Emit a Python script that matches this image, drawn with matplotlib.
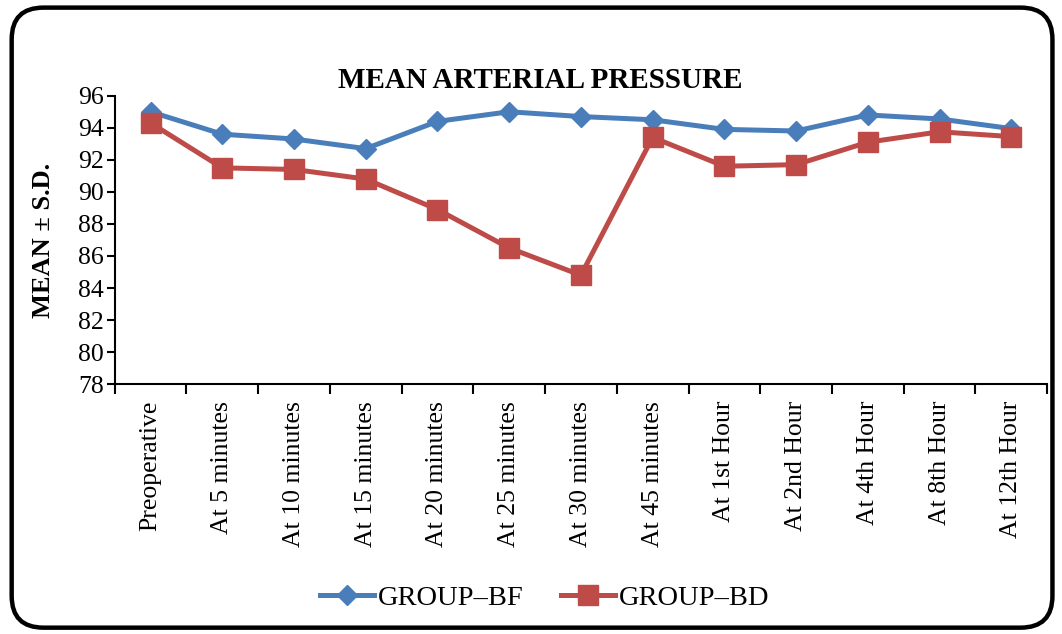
import numpy as np
import matplotlib
matplotlib.use("Agg")
import matplotlib.pyplot as plt
from matplotlib.patches import FancyBboxPatch

plt.rcParams['font.family'] = ['Liberation Serif', 'DejaVu Serif']

# time points
categories = ["Preoperative", "At 5 minutes", "At 10 minutes", "At 15 minutes",
              "At 20 minutes", "At 25 minutes", "At 30 minutes", "At 45 minutes",
              "At 1st Hour", "At 2nd Hour", "At 4th Hour", "At 8th Hour", "At 12th Hour"]

# mean arterial pressure per group
group_bf = [95.0, 93.6, 93.3, 92.7, 94.4, 95.0, 94.7, 94.5, 93.9, 93.8, 94.8, 94.55, 93.95]
group_bd = [94.3, 91.5, 91.4, 90.8, 88.9, 86.5, 84.8, 93.4, 91.6, 91.7, 93.1, 93.75, 93.45]

y_ticks = np.arange(78, 97, 2)

fig = plt.figure(figsize=(10.62, 6.34), dpi=100)
ax = fig.add_axes([0.108, 0.394, 0.878, 0.455])

x = np.arange(len(categories))
ax.plot(x, group_bf, color='#4A7EBB', lw=3.6, marker='D', ms=10,
        label="GROUP\u2013BF", zorder=3)
ax.plot(x, group_bd, color='#BE4B48', lw=3.6, marker='s', ms=14,
        label="GROUP\u2013BD", zorder=4)

ax.set_xlim(-0.5, len(categories) - 0.5)
ax.set_ylim(78, 96)
ax.set_yticks(y_ticks)
ax.tick_params(axis='y', labelsize=18.5, length=6, width=1.5, direction='out', pad=2)

ax.set_xticks(x)
ax.set_xticklabels(categories, rotation=90, fontsize=18.5)
ax.set_xticks(np.arange(-0.5, len(categories)), minor=True)
ax.tick_params(axis='x', which='major', length=0, pad=12)
ax.tick_params(axis='x', which='minor', length=7, width=1.5, direction='out')

for side in ['top', 'right']:
    ax.spines[side].set_visible(False)
for side in ['left', 'bottom']:
    ax.spines[side].set_linewidth(1.5)

ax.set_ylabel("MEAN \u00b1 S.D.", fontsize=19, fontweight='bold')
ax.yaxis.set_label_coords(-0.064, 0.5)
fig.text(0.509, 0.873, "MEAN ARTERIAL PRESSURE", ha='center', va='center',
         fontsize=21, fontweight='bold')

handles, labels = ax.get_legend_handles_labels()
fig.legend(handles, labels, loc='center', bbox_to_anchor=(0.513, 0.057), ncol=2,
           frameon=False, fontsize=20.5, handlelength=1.9, columnspacing=1.3,
           handletextpad=0.15)

# rounded frame around the whole chart
frame = FancyBboxPatch((0.011, 0.01), 0.98, 0.978, transform=fig.transFigure,
                       boxstyle="round,pad=0,rounding_size=0.03",
                       fill=False, lw=3.2, ec='black', mutation_aspect=1.67)
fig.patches.append(frame)

fig.savefig("out.png", dpi=100)
